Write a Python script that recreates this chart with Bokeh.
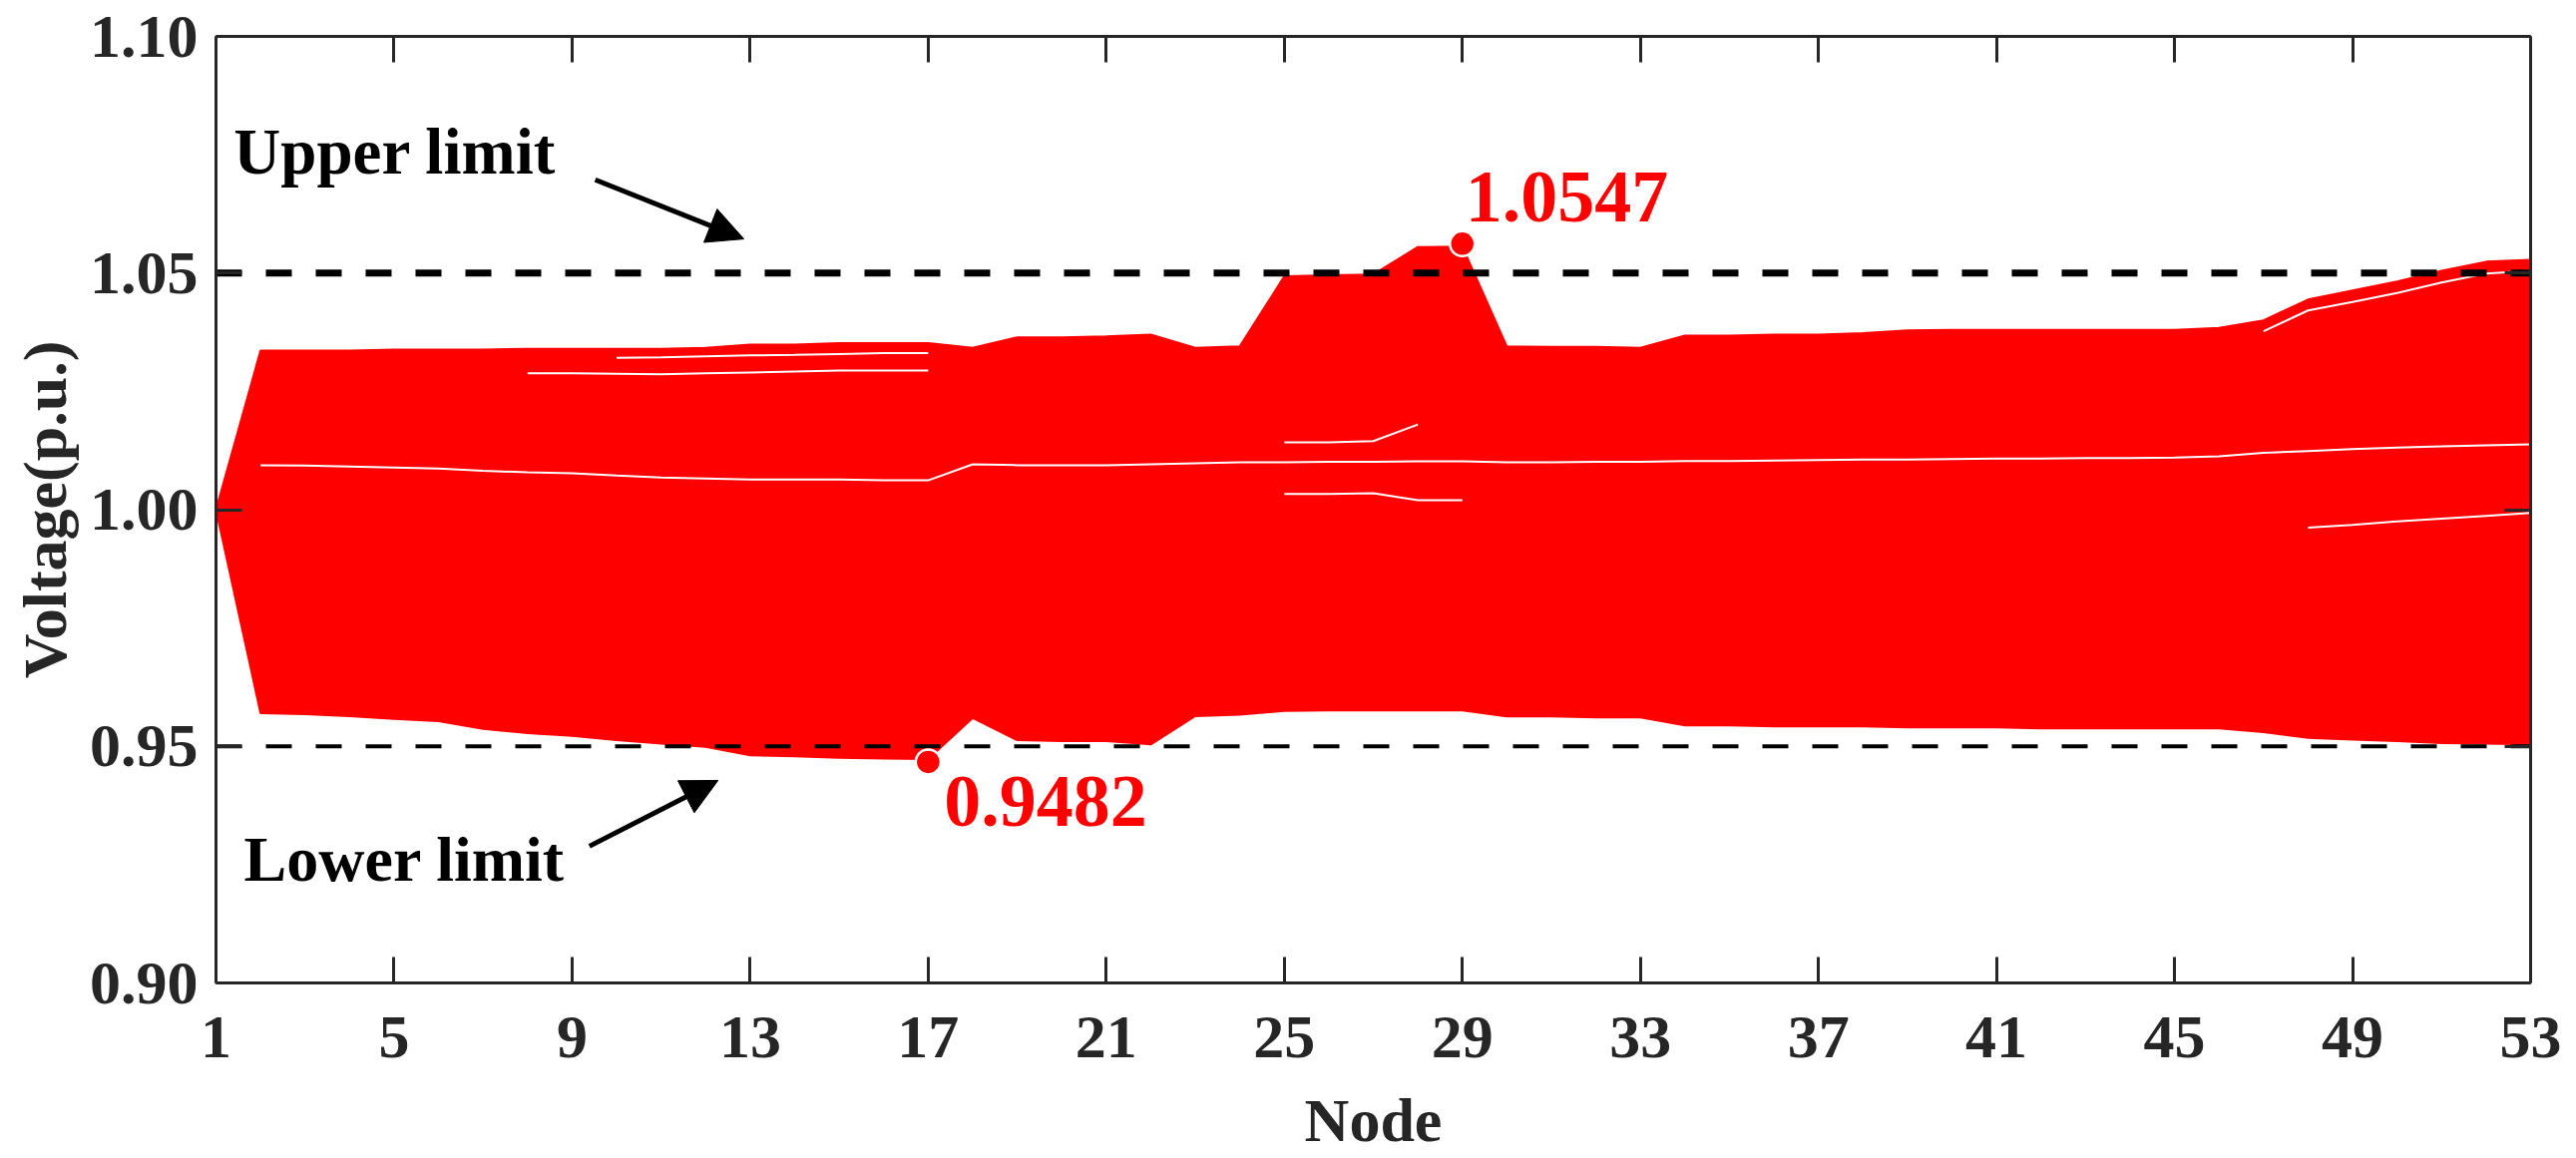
import math
from bokeh.plotting import figure
from bokeh.models import Range1d, LinearAxis, FixedTicker, Label, Arrow, NormalHead
from bokeh.embed import file_html
from bokeh.resources import INLINE
from bokeh.core.properties import value

# ---------------- data ----------------
nodes = list(range(1, 54))
upper = [1.0000, 1.0336, 1.0336, 1.0336, 1.0338, 1.0338, 1.0338, 1.0340, 1.0340, 1.0340,
         1.0340, 1.0342, 1.0349, 1.0349, 1.0352, 1.0352, 1.0352, 1.0342, 1.0364, 1.0364,
         1.0366, 1.0370, 1.0342, 1.0345, 1.0493, 1.0495, 1.0497, 1.0555, 1.0556, 1.0345,
         1.0344, 1.0344, 1.0342, 1.0368, 1.0368, 1.0370, 1.0370, 1.0373, 1.0379, 1.0380,
         1.0380, 1.0380, 1.0380, 1.0380, 1.0380, 1.0384, 1.0400, 1.0444, 1.0463, 1.0482,
         1.0505, 1.0524, 1.0528]
lower = [1.0000, 0.9570, 0.9568, 0.9564, 0.9558, 0.9553, 0.9537, 0.9528, 0.9522, 0.9513,
         0.9506, 0.9499, 0.9481, 0.9479, 0.9476, 0.9474, 0.9473, 0.9560, 0.9513, 0.9511,
         0.9511, 0.9504, 0.9564, 0.9567, 0.9575, 0.9576, 0.9576, 0.9576, 0.9576, 0.9563,
         0.9563, 0.9561, 0.9561, 0.9544, 0.9544, 0.9542, 0.9542, 0.9542, 0.9540, 0.9540,
         0.9540, 0.9538, 0.9538, 0.9538, 0.9538, 0.9538, 0.9530, 0.9518, 0.9514, 0.9511,
         0.9507, 0.9506, 0.9504]

# thin gaps between scenario curves (visible as white lines inside the band)
gap_a_nodes = list(range(2, 54))
gap_a_values = [1.0094, 1.0093, 1.0091, 1.0089, 1.0087, 1.0082, 1.0079, 1.0077, 1.0072, 1.0068,
                1.0066, 1.0064, 1.0064, 1.0064, 1.0062, 1.0062, 1.0096, 1.0094, 1.0094, 1.0094,
                1.0096, 1.0098, 1.0100, 1.0100, 1.0101, 1.0101, 1.0102, 1.0102, 1.0100, 1.0100,
                1.0101, 1.0101, 1.0103, 1.0103, 1.0104, 1.0105, 1.0106, 1.0106, 1.0107, 1.0108,
                1.0108, 1.0109, 1.0109, 1.0110, 1.0113, 1.0120, 1.0124, 1.0128, 1.0131, 1.0134,
                1.0136, 1.0138]
gap_b_nodes = list(range(8, 18))
gap_b_values = [1.0288, 1.0288, 1.0287, 1.0286, 1.0288, 1.0290, 1.0292, 1.0294, 1.0294, 1.0294]
gap_c_nodes = list(range(10, 18))
gap_c_values = [1.0321, 1.0322, 1.0324, 1.0326, 1.0327, 1.0329, 1.0331, 1.0331]
gap_d_nodes = list(range(48, 54))
gap_d_values = [0.9962, 0.9968, 0.9975, 0.9981, 0.9987, 0.9993]
gap_e_nodes = list(range(25, 29))
gap_e_values = [1.0142, 1.0142, 1.0145, 1.0180]
gap_f_nodes = list(range(25, 30))
gap_f_values = [1.0033, 1.0033, 1.0035, 1.0020, 1.0020]
gap_g_nodes = list(range(47, 54))
gap_g_values = [1.0377, 1.0421, 1.0439, 1.0458, 1.0480, 1.0499, 1.0505]
gaps = [(gap_a_nodes, gap_a_values), (gap_b_nodes, gap_b_values), (gap_c_nodes, gap_c_values),
        (gap_d_nodes, gap_d_values), (gap_e_nodes, gap_e_values), (gap_f_nodes, gap_f_values),
        (gap_g_nodes, gap_g_values)]

upper_limit = 1.05
lower_limit = 0.95
extreme_nodes = [29, 17]
extreme_values = [1.0562, 0.9467]
extreme_labels = ["1.0547", "0.9482"]

x_ticks = list(range(1, 54, 4))
y_ticks = [0.90, 0.95, 1.00, 1.05, 1.10]
y_tick_labels = ["0.90", "0.95", "1.00", "1.05", "1.10"]

# ---------------- figure ----------------
FONT = "Liberation Serif"
AX = "#262626"
RED = "#FF0000"

p = figure(width=2580, height=1160, x_range=Range1d(1, 53), y_range=Range1d(0.90, 1.10),
           output_backend="svg", toolbar_location=None,
           x_axis_type=None, y_axis_type=None,
           min_border_left=216, min_border_right=44, min_border_top=36, min_border_bottom=175)
p.xgrid.visible = False
p.ygrid.visible = False
p.outline_line_color = None
p.background_fill_color = "white"
p.border_fill_color = "white"

bottom_axis = LinearAxis(ticker=FixedTicker(ticks=x_ticks))
top_axis = LinearAxis(ticker=FixedTicker(ticks=x_ticks))
y_over = {t: s for t, s in zip(y_ticks, y_tick_labels)}
left_axis = LinearAxis(ticker=FixedTicker(ticks=y_ticks), major_label_overrides=y_over)
right_axis = LinearAxis(ticker=FixedTicker(ticks=y_ticks), major_label_overrides=y_over)

for ax in [bottom_axis, top_axis, left_axis, right_axis]:
    ax.axis_line_color = AX
    ax.axis_line_width = 3
    ax.major_tick_line_color = AX
    ax.major_tick_line_width = 3
    ax.major_tick_in = 26
    ax.major_tick_out = 0
    ax.minor_tick_line_color = None
    ax.major_label_text_font = FONT
    ax.major_label_text_font_style = "bold"
    ax.major_label_text_font_size = "62px"
    ax.major_label_text_color = AX

for ax in [top_axis, right_axis]:
    ax.major_label_text_font_size = "0px"
    ax.major_label_text_color = None
    ax.major_label_standoff = 0

left_axis.major_label_standoff = 18
left_axis.axis_label = "Voltage(p.u.)"
left_axis.axis_label_text_font = FONT
left_axis.axis_label_text_font_style = "bold"
left_axis.axis_label_text_font_size = "62px"
left_axis.axis_label_text_color = AX
left_axis.axis_label_standoff = 8

bottom_axis.major_label_standoff = 34
bottom_axis.axis_label = "Node"
bottom_axis.axis_label_text_font = FONT
bottom_axis.axis_label_text_font_style = "bold"
bottom_axis.axis_label_text_font_size = "62px"
bottom_axis.axis_label_text_color = AX
bottom_axis.axis_label_standoff = 26

p.add_layout(bottom_axis, "below")
p.add_layout(top_axis, "above")
p.add_layout(left_axis, "left")
p.add_layout(right_axis, "right")

# ---------------- data marks ----------------
p.varea(x=nodes, y1=lower, y2=upper, fill_color=RED, fill_alpha=1.0)
p.line(x=nodes, y=upper, line_color=RED, line_width=2)
p.line(x=nodes, y=lower, line_color=RED, line_width=2)
for gx, gy in gaps:
    p.line(x=gx, y=gy, line_color="white", line_width=2)

p.line(x=[nodes[0], nodes[-1]], y=[upper_limit, upper_limit], line_color="black",
       line_width=7, line_dash="26 24")
p.line(x=[nodes[0], nodes[-1]], y=[lower_limit, lower_limit], line_color="black",
       line_width=4, line_dash="26 24")

p.scatter(x=extreme_nodes, y=extreme_values, marker="circle", size=25,
          fill_color=RED, line_color="white", line_width=2.5)

p.text(x=[extreme_nodes[0]], y=[extreme_values[0]], text=[extreme_labels[0]],
       x_offset=3, y_offset=-47, text_font=value(FONT), text_font_style="bold",
       text_font_size="74px", text_color=RED, text_align="left", text_baseline="alphabetic")
p.text(x=[extreme_nodes[1]], y=[extreme_values[1]], text=[extreme_labels[1]],
       x_offset=16, y_offset=40, text_font=value(FONT), text_font_style="bold",
       text_font_size="74px", text_color=RED, text_align="left", text_baseline="alphabetic")

# ---------------- annotations ----------------
p.add_layout(Label(x=1.40, y=1.0757, text="Upper limit", text_font=FONT, text_font_style="bold",
                   text_font_size="65px", text_color="black", text_align="left",
                   text_baseline="alphabetic"))
p.add_layout(Label(x=1.63, y=0.9261, text="Lower limit", text_font=FONT, text_font_style="bold",
                   text_font_size="64px", text_color="black", text_align="left",
                   text_baseline="alphabetic"))
p.add_layout(Arrow(end=NormalHead(size=36, fill_color="black", line_color="black"),
                   x_start=9.52, y_start=1.0697, x_end=12.86, y_end=1.0572,
                   line_color="black", line_width=5))
p.add_layout(Arrow(end=NormalHead(size=36, fill_color="black", line_color="black"),
                   x_start=9.39, y_start=0.9289, x_end=12.28, y_end=0.9428,
                   line_color="black", line_width=5))

open("out.html", "w").write(file_html(p, INLINE))
